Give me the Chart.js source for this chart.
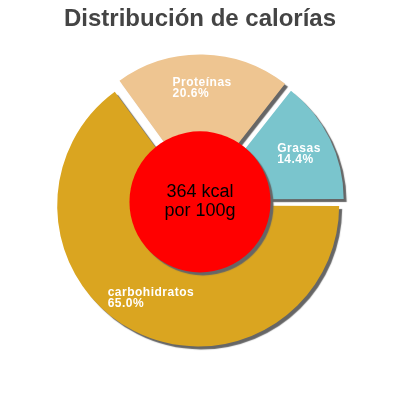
<!DOCTYPE html>
<html>
<head>
<meta charset="utf-8">
<script src="https://cdn.jsdelivr.net/npm/chart.js@4.4.1/dist/chart.umd.min.js"></script>
<style>
  html, body { margin: 0; padding: 0; background: #fff; }
  #wrap { width: 400px; height: 400px; }
</style>
</head>
<body>
<div id="wrap"><canvas id="pieChart" width="400" height="400"></canvas></div>
<script>
// donnees du graphique
const categorias = ["carbohidratos", "Proteínas", "Grasas"];
const porcentajes = [65.0, 20.6, 14.4];
const colores = ["#DAA520", "#EEC591", "#7AC5CD"];
const textoCentro = ["364 kcal", "por 100g"];
const titulo = "Distribución de calorías";

// ombre sous les parts
const sombraPlugin = {
    id: "sombra",
    beforeDatasetsDraw(chart) {
        const ctx = chart.ctx;
        ctx.save();
        ctx.shadowColor = "#666666";
        ctx.shadowOffsetX = 3;
        ctx.shadowOffsetY = 3;
        ctx.shadowBlur = 1;
    },
    afterDatasetsDraw(chart) {
        chart.ctx.restore();
    }
};

// cercle rouge + etiquettes
const centroPlugin = {
    id: "centro",
    afterDatasetsDraw(chart) {
        const ctx = chart.ctx;
        const arcs = chart.getDatasetMeta(0).data;
        const cx = arcs[0].x;
        const cy = arcs[0].y;
        const r = chart.options.radius;

        // cercle rouge
        ctx.save();
        ctx.shadowColor = "#666666";
        ctx.shadowOffsetX = 3;
        ctx.shadowOffsetY = 3;
        ctx.shadowBlur = 1;
        ctx.beginPath();
        ctx.arc(cx, cy, r * 0.515, 0, Math.PI * 2);
        ctx.fillStyle = "#FF0000";
        ctx.fill();
        ctx.restore();

        // etiquettes des parts (centre de chaque part decalee)
        ctx.save();
        ctx.font = "bold 12px 'Liberation Sans', Arial, sans-serif";
        ctx.letterSpacing = "0.5px";
        ctx.fillStyle = "#FFFFFF";
        ctx.textAlign = "left";
        ctx.textBaseline = "alphabetic";
        arcs.forEach((arc, i) => {
            const mid = (arc.startAngle + arc.endAngle) / 2;
            const dec = (arc.options.offset || 0) / 4;
            const lx = cx + Math.cos(mid) * (dec + r * 0.76);
            const ly = cy + Math.sin(mid) * (dec + r * 0.76);
            const l1 = categorias[i];
            const l2 = porcentajes[i].toFixed(1) + "%";
            const w = Math.max(ctx.measureText(l1).width, ctx.measureText(l2).width);
            ctx.fillText(l1, lx - w / 2, ly - 2);
            ctx.fillText(l2, lx - w / 2, ly + 9);
        });
        ctx.restore();

        // texte central
        ctx.save();
        ctx.font = "18px 'Liberation Sans', Arial, sans-serif";
        ctx.fillStyle = "#000000";
        ctx.textAlign = "center";
        ctx.textBaseline = "alphabetic";
        ctx.fillText(textoCentro[0], cx, cy - 5);
        ctx.fillText(textoCentro[1], cx, cy + 14);
        ctx.restore();
    }
};

new Chart(document.getElementById("pieChart"), {
    type: "pie",
    data: {
        labels: categorias,
        datasets: [{
            data: porcentajes,
            backgroundColor: colores,
            borderWidth: 0,
            offset: [16, 40, 24]
        }]
    },
    options: {
        responsive: false,
        animation: false,
        events: [],
        rotation: 90,
        radius: 137,
        layout: { padding: { top: 0, bottom: 30, left: 0, right: 0 } },
        plugins: {
            legend: { display: false },
            tooltip: { enabled: false },
            title: {
                display: true,
                text: titulo,
                color: "#444444",
                font: { family: "'Liberation Sans', Arial, sans-serif", size: 24, weight: "bold" },
                padding: { top: 5, bottom: 0 }
            }
        }
    },
    plugins: [sombraPlugin, centroPlugin]
});
</script>
</body>
</html>
